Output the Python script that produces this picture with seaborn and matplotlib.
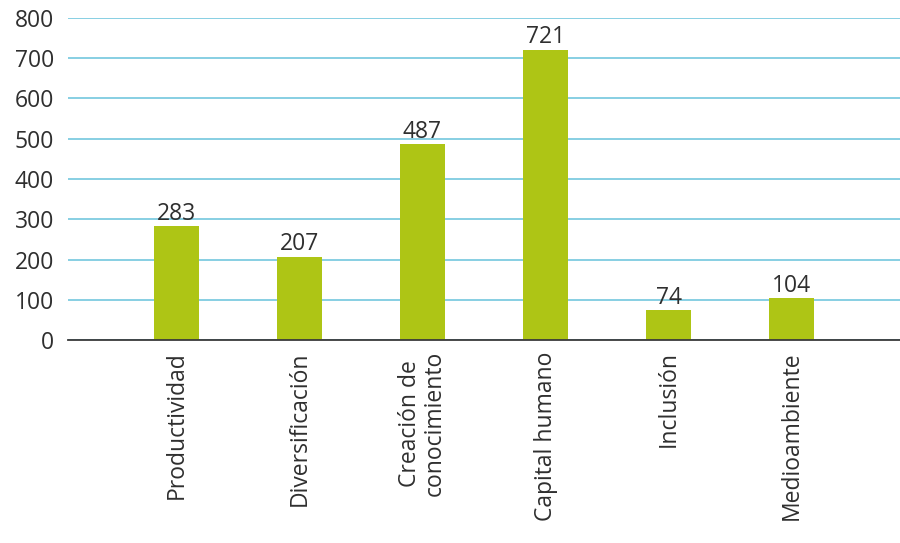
import matplotlib
matplotlib.use("Agg")
import matplotlib.pyplot as plt
import seaborn as sns
import pandas as pd

categories = ["Productividad", "Diversificación", "Creación de\nconocimiento",
              "Capital humano", "Inclusión", "Medioambiente"]
values = [283, 207, 487, 721, 74, 104]
yticks = [0, 100, 200, 300, 400, 500, 600, 700, 800]

df = pd.DataFrame({"categoria": categories, "valor": values})

sns.set_theme(style="white")
plt.rcParams["font.family"] = ["Open Sans", "DejaVu Sans"]

fig = plt.figure(figsize=(9, 5.43), dpi=100)
ax = fig.add_axes([0.0756, 0.3738, 0.9244, 0.5931])

sns.barplot(data=df, x="categoria", y="valor", color="#AEC515",
            width=0.37, saturation=1, linewidth=0, ax=ax, zorder=3)

text_color = "#2f2f2f"
fs = 16.5
ax.set_ylim(0, 800)
ax.set_xlim(-0.88, 5.88)
ax.set_yticks(yticks)
ax.set_yticklabels([str(t) for t in yticks], fontsize=fs, color=text_color)
ax.yaxis.grid(True, color="#7ECCE0", linewidth=1.3, zorder=0)
ax.set_axisbelow(True)
ax.tick_params(axis="y", length=0, pad=10)
ax.tick_params(axis="x", length=0, pad=8)
ax.set_xticks(range(len(categories)))
ax.set_xticklabels(categories, rotation=90, fontsize=fs, color=text_color,
                   linespacing=1.05, va="top", ha="center")
ax.set_xlabel("")
ax.set_ylabel("")

for s in ["top", "right", "left"]:
    ax.spines[s].set_visible(False)
ax.spines["bottom"].set_color("#3a3a3a")
ax.spines["bottom"].set_linewidth(1.3)
ax.spines["bottom"].set_zorder(4)

for i, v in enumerate(values):
    ax.text(i, v + 1, str(v), ha="center", va="bottom", fontsize=fs,
            color=text_color)

fig.savefig("out.png", dpi=100)
